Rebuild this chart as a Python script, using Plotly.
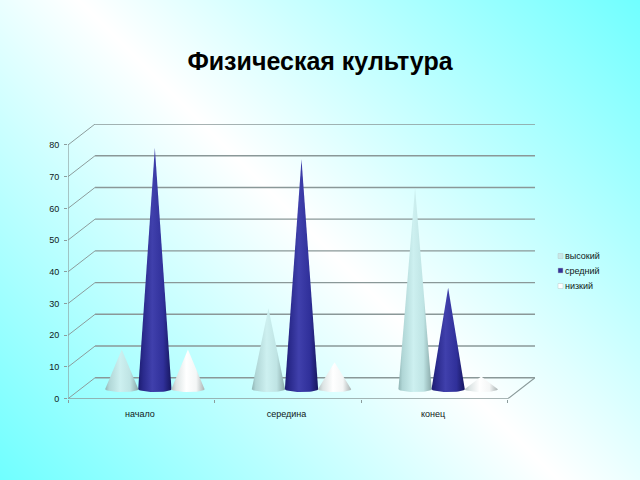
import numpy as np
import plotly.graph_objects as go

# Values
categories = ['начало', 'середина', 'конец']
series_names = ['высокий', 'средний', 'низкий']
vysokiy = [12.5, 25.5, 63.5]
sredniy = [76, 72.5, 32]
nizkiy = [12.5, 8.5, 4]
y_ticks = [0, 10, 20, 30, 40, 50, 60, 70, 80]

# Shading across each cone, left edge to right edge
shades = {
    'высокий': [[0, '#8fb4b4'], [0.12, '#b0d6d6'], [0.45, '#cdf0f0'], [0.75, '#bfe4e4'], [1, '#88a8a8']],
    'средний': [[0, '#1c1c70'], [0.15, '#2a2a8c'], [0.42, '#4040ac'], [0.75, '#30309a'], [1, '#16165e']],
    'низкий': [[0, '#b4c0c0'], [0.15, '#dce4e4'], [0.45, '#ffffff'], [0.75, '#f4f6f6'], [1, '#a8b2b2']],
}
legend_colors = ['#c8e8e8', '#333399', '#ffffff']

# Oblique depth of the 3D box, in axis units
depth_x = 0.1845
depth_y = 6.6
x_max = 3 + depth_x
y_max = 80 + depth_y
cone_step = 0.2256
cone_radius = 0.1135
base_height = 0.9

fig = go.Figure()

# Diagonal background on its own axes, so it sits under everything
bg_x = np.linspace(0, 640, 65)
bg_y = np.linspace(0, 480, 49)
bg_z = bg_x[None, :] - bg_y[:, None]
fig.add_trace(go.Heatmap(
    x=bg_x, y=bg_y, z=bg_z, zmin=-480, zmax=640, zsmooth='best',
    colorscale=[[0, '#70ffff'], [0.4986, '#ffffff'], [1, '#70ffff']],
    showscale=False, hoverinfo='skip',
))

# Box lines: side wall, back wall, floor
grid_x = []
grid_y = []
for v in y_ticks:
    grid_x += [0, depth_x, None]
    grid_y += [v, v + depth_y, None]
fig.add_trace(go.Scatter(
    x=grid_x, y=grid_y, mode='lines', xaxis='x2', yaxis='y2',
    line=dict(color='#8c9c9c', width=1), hoverinfo='skip',
))
grid_x = []
grid_y = []
for v in y_ticks:
    grid_x += [depth_x, x_max, None]
    grid_y += [v + depth_y, v + depth_y, None]
fig.add_trace(go.Scatter(
    x=grid_x, y=grid_y, mode='lines', xaxis='x2', yaxis='y2',
    line=dict(color='#8a9898', width=1.4), hoverinfo='skip',
))
fig.add_trace(go.Scatter(
    x=[0, 0, None, 0, 3, x_max], y=[80, 0, None, 0, 0, depth_y],
    mode='lines', xaxis='x2', yaxis='y2',
    line=dict(color='#8c9c9c', width=1.2), hoverinfo='skip',
))

# Cones: left corner, apex, right corner, then lower half of the base back to the left
theta = np.linspace(0, np.pi, 25)
for s, values in enumerate([vysokiy, sredniy, nizkiy]):
    for c, value in enumerate(values):
        center = c + 0.5 + depth_x / 2 + (s - 1) * cone_step
        floor = depth_y / 2 - 0.3
        xs = center + cone_radius * np.cos(theta)
        ys = floor - base_height * np.sin(theta)
        cone_x = [center - cone_radius, center] + [float(v) for v in xs]
        cone_y = [floor, floor + value] + [float(v) for v in ys]
        fig.add_trace(go.Scatter(
            x=cone_x, y=cone_y, mode='lines', fill='toself',
            xaxis='x2', yaxis='y2',
            line=dict(width=0),
            fillgradient=dict(type='horizontal', colorscale=shades[series_names[s]]),
            name=series_names[s],
            hovertemplate=categories[c] + ': %{text}<extra>' + series_names[s] + '</extra>',
            text=[value] * len(cone_x),
        ))

fig.update_layout(
    width=640,
    height=480,
    margin=dict(l=0, r=0, t=0, b=0),
    paper_bgcolor='#ffffff',
    plot_bgcolor='rgba(0,0,0,0)',
    showlegend=False,
    font=dict(family='Liberation Sans', color='#102020'),
    title=dict(
        text='<b>Физическая культура</b>',
        x=0.5, xanchor='center', y=1 - 61 / 480, yanchor='middle',
        font=dict(family='Liberation Sans', size=25, color='#000000'),
    ),
    xaxis=dict(domain=[0, 1], range=[0, 640], visible=False, automargin=False),
    yaxis=dict(domain=[0, 1], range=[480, 0], visible=False, automargin=False),
    xaxis2=dict(
        domain=[68 / 640, 535 / 640], range=[0, x_max], anchor='y2', automargin=False,
        tickvals=[0.49, 1.49, 2.49], ticktext=categories, ticks='',
        tickfont=dict(size=9), showgrid=False, zeroline=False, ticklabelstandoff=8,
        minor=dict(tickvals=[0, 1, 2, 3], ticks='outside', ticklen=3,
                   tickcolor='#8c9c9c', showgrid=False),
    ),
    yaxis2=dict(
        domain=[(480 - 398.7) / 480, (480 - 124) / 480], range=[0, y_max], anchor='x2',
        automargin=False,
        tickvals=y_ticks, ticks='outside', ticklen=3, tickcolor='#8c9c9c',
        tickfont=dict(size=9), showgrid=False, zeroline=False, ticklabelstandoff=3,
    ),
)

# Legend keys and labels
legend_y = [256, 270.5, 286]
for name, color, ly in zip(series_names, legend_colors, legend_y):
    fig.add_shape(
        type='rect', xref='paper', yref='paper',
        x0=558 / 640, x1=563 / 640, y0=1 - (ly + 2.5) / 480, y1=1 - (ly - 2.5) / 480,
        fillcolor=color, line=dict(color='#b8c8c8', width=0.5),
    )
    fig.add_annotation(
        text=name, xref='paper', yref='paper', x=562.5 / 640, y=1 - ly / 480,
        xanchor='left', yanchor='middle', showarrow=False,
        font=dict(size=9, color='#102020'),
    )

# Drop the default page margin so the figure starts at the window corner
fig.write_html(
    "out.html",
    config=dict(displayModeBar=False),
    post_script="document.body.style.margin = '0';",
)
